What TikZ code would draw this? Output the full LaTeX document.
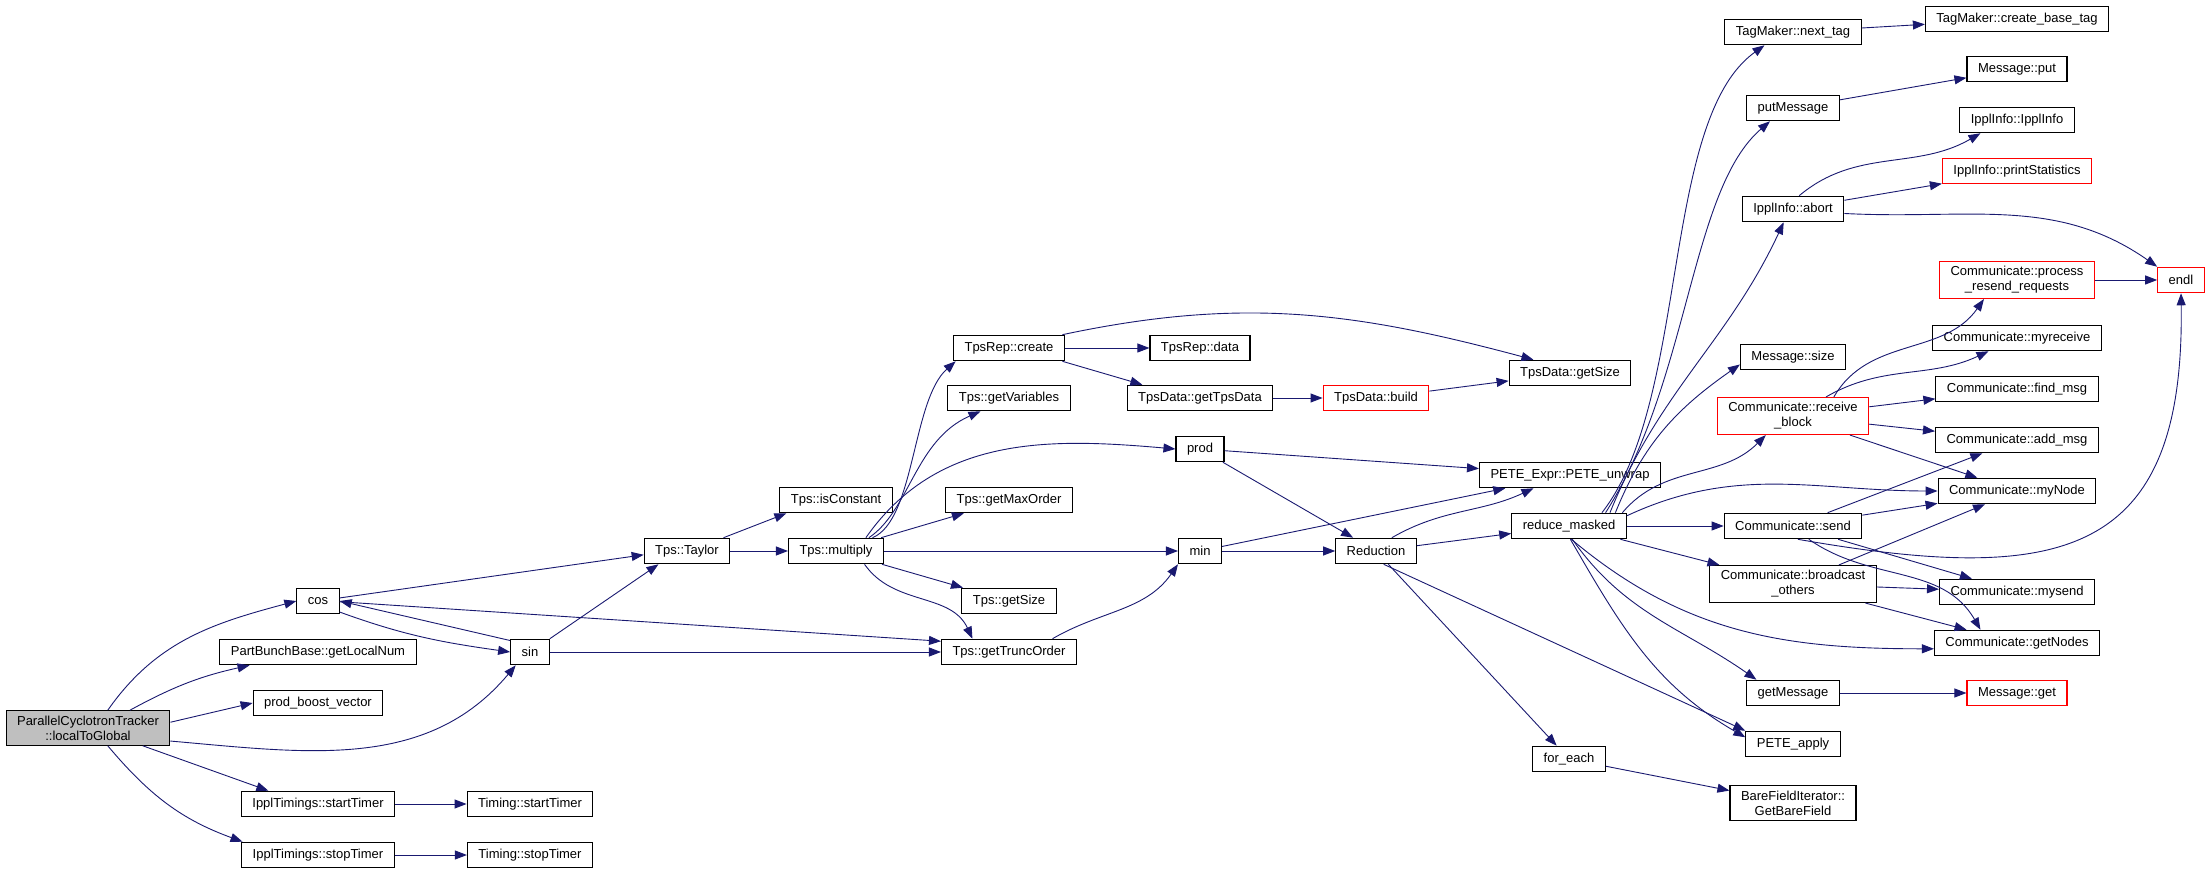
\documentclass[tikz,border=0pt]{standalone}
\usepackage{fontspec}
\setmainfont{Liberation Sans}
\usepackage{xcolor}
\usetikzlibrary{arrows.meta}
\definecolor{edgeblue}{HTML}{191970}
\definecolor{rootgray}{HTML}{BFBFBF}

\begin{document}
\begin{tikzpicture}[x=1pt,y=1pt,
  fn/.style={rectangle,draw=black,line width=1.1pt,font=\fontsize{13}{15}\selectfont,
    inner xsep=11pt,inner ysep=5pt,minimum height=25.5pt,align=center},
  fnred/.style={fn,draw=red},
  fnroot/.style={fn,fill=rootgray},
  call/.style={draw=edgeblue,line width=0.9pt,-{Triangle[length=12pt,width=9pt]}}]
\useasboundingbox (0,0) rectangle (2211,873);

% caller and its direct callees
\node (root) at (88,145) [fnroot] {ParallelCyclotronTracker\\::localToGlobal};
\node (cos) at (318,272) [fn] {cos};
\node (partnum) at (318,221) [fn] {PartBunchBase::getLocalNum};
\node (boostvec) at (318,170) [fn] {prod\_boost\_vector};
\node (sin) at (530,221) [fn] {sin};
\node (startT) at (318,69) [fn] {IpplTimings::startTimer};
\node (tstart) at (530,69) [fn] {Timing::startTimer};
\node (stopT) at (318,18) [fn] {IpplTimings::stopTimer};
\node (tstop) at (530,18) [fn] {Timing::stopTimer};

% Tps
\node (taylor) at (687,322) [fn] {Tps::Taylor};
\node (multiply) at (836,322) [fn] {Tps::multiply};
\node (isconst) at (836,373) [fn] {Tps::isConstant};
\node (repcreate) at (1009,525) [fn] {TpsRep::create};
\node (getvars) at (1009,475) [fn] {Tps::getVariables};
\node (maxorder) at (1009,373) [fn] {Tps::getMaxOrder};
\node (getsize) at (1009,272) [fn] {Tps::getSize};
\node (truncorder) at (1009,221) [fn] {Tps::getTruncOrder};
\node (repdata) at (1200,525) [fn] {TpsRep::data};
\node (gettpsdata) at (1200,475) [fn] {TpsData::getTpsData};
\node (prod) at (1200,424) [fn] {prod};
\node (min) at (1200,322) [fn] {min};
\node (build) at (1376,475) [fnred] {TpsData::build};
\node (reduction) at (1376,322) [fn] {Reduction};
\node (datasize) at (1570,500) [fn] {TpsData::getSize};
\node (unwrap) at (1570,398) [fn] {PETE\_Expr::PETE\_unwrap};
\node (reducemasked) at (1569,347) [fn] {reduce\_masked};
\node (foreach) at (1569,114) [fn] {for\_each};

% Communicate and friends
\node (nexttag) at (1793,841) [fn] {TagMaker::next\_tag};
\node (putmsg) at (1793,765) [fn] {putMessage};
\node (abort) at (1793,664) [fn] {IpplInfo::abort};
\node (msgsize) at (1793,516) [fn] {Message::size};
\node (recvblock) at (1793,457) [fnred] {Communicate::receive\\\_block};
\node (send) at (1793,347) [fn] {Communicate::send};
\node (bcast) at (1793,289) [fn] {Communicate::broadcast\\\_others};
\node (getmsg) at (1793,180) [fn] {getMessage};
\node (peteapply) at (1793,129) [fn] {PETE\_apply};
\node (barefield) at (1793,70) [fn] {BareFieldIterator::\\GetBareField};
\node (basetag) at (2017,854) [fn] {TagMaker::create\_base\_tag};
\node (msgput) at (2017,804) [fn] {Message::put};
\node (ipplinfo) at (2017,753) [fn] {IpplInfo::IpplInfo};
\node (printstat) at (2017,702) [fnred] {IpplInfo::printStatistics};
\node (resend) at (2017,593) [fnred] {Communicate::process\\\_resend\_requests};
\node (endl) at (2181,593) [fnred] {endl};
\node (myreceive) at (2017,535) [fn] {Communicate::myreceive};
\node (findmsg) at (2017,484) [fn] {Communicate::find\_msg};
\node (addmsg) at (2017,433) [fn] {Communicate::add\_msg};
\node (mynode) at (2017,382) [fn] {Communicate::myNode};
\node (mysend) at (2017,281) [fn] {Communicate::mysend};
\node (getnodes) at (2017,230) [fn] {Communicate::getNodes};
\node (msgget) at (2017,180) [fnred] {Message::get};

% calls
\draw[call] (root.42) to[out=55,in=195] (cos.west);
\draw[call] (root.23) to[bend left=8] (partnum.191);
\draw[call] (root.4) -- (boostvec.west);
\draw[call] (root.-9) to[out=-5,in=230] (sin.223);
\draw[call] (root.-18) -- (startT.165);
\draw[call] (root.-42) to[out=-50,in=160] (stopT.170);
\draw[call] (startT) -- (tstart);
\draw[call] (stopT) -- (tstop);
\draw[call] (cos.8) -- (taylor.185);
\draw[call] (cos.-27) to[out=-20,in=172] (sin.west);
\draw[call] (cos.-2) -- (truncorder.171);
\draw[call] (sin.150) -- (cos.east);
\draw[call] (sin.north east) -- (taylor.205);
\draw[call] (sin) -- (truncorder);
\draw[call] (taylor.20) -- (isconst.195);
\draw[call] (taylor) -- (multiply);
\draw[call] (multiply.20) .. controls (915,353) and (912,473) .. (repcreate.194);
\draw[call] (multiply.22) .. controls (910,363) and (915,433) .. (getvars.205);
\draw[call] (multiply.24) to[out=55,in=175] (prod.west);
\draw[call] (multiply) -- (maxorder);
\draw[call] (multiply) -- (min);
\draw[call] (multiply) -- (getsize);
\draw[call] (multiply.-25) to[out=-55,in=115] (truncorder.160);
\draw[call] (truncorder.17) to[out=30,in=235] (min.south west);
\draw[call] (repcreate) -- (repdata);
\draw[call] (repcreate.-14) -- (gettpsdata.167);
\draw[call] (repcreate.14) to[out=12,in=165] (datasize.160);
\draw[call] (gettpsdata) -- (build);
\draw[call] (build) -- (datasize);
\draw[call] (prod) -- (unwrap);
\draw[call] (prod) -- (reduction);
\draw[call] (min) -- (unwrap);
\draw[call] (min) -- (reduction);
\draw[call] (reduction.40) to[out=30,in=205] (unwrap.200);
\draw[call] (reduction) -- (reducemasked);
\draw[call] (reduction) -- (foreach);
\draw[call] (reduction.-60) -- (peteapply.north west);
\draw[call] (reducemasked.22) .. controls (1690,473) and (1660,753) .. (nexttag.205);
\draw[call] (reducemasked.20) .. controls (1690,493) and (1690,683) .. (putmsg.210);
\draw[call] (reducemasked.18) to[out=68,in=245] (abort.235);
\draw[call] (reducemasked.16) to[out=68,in=215] (msgsize.188);
\draw[call] (reducemasked.14) to[out=50,in=225] (recvblock.215);
\draw[call] (reducemasked.10) to[out=25,in=180] (mynode.west);
\draw[call] (reducemasked) -- (send);
\draw[call] (reducemasked) -- (bcast);
\draw[call] (reducemasked.-80) to[out=-40,in=180] (getnodes.184);
\draw[call] (reducemasked.-76) to[out=-55,in=145] (getmsg.160);
\draw[call] (reducemasked.-84) to[out=-60,in=150] (peteapply.172);
\draw[call] (nexttag) -- (basetag);
\draw[call] (putmsg) -- (msgput);
\draw[call] (abort.65) to[out=40,in=210] (ipplinfo.200);
\draw[call] (abort) -- (printstat);
\draw[call] (abort.-5) to[out=-3,in=145] (endl.north west);
\draw[call] (resend) -- (endl);
\draw[call] (recvblock.25) to[out=60,in=235] (resend.210);
\draw[call] (recvblock.30) to[out=30,in=205] (myreceive.205);
\draw[call] (recvblock) -- (findmsg);
\draw[call] (recvblock) -- (addmsg);
\draw[call] (recvblock) -- (mynode);
\draw[call] (send) -- (addmsg);
\draw[call] (send) -- (mynode);
\draw[call] (send.-70) .. controls (2060,288) and (2185,313) .. (endl.south);
\draw[call] (send) -- (mysend);
\draw[call] (send.-40) to[out=-35,in=120] (getnodes.160);
\draw[call] (bcast) -- (mynode);
\draw[call] (bcast) -- (mysend);
\draw[call] (bcast) -- (getnodes);
\draw[call] (getmsg) -- (msgget);
\draw[call] (foreach) -- (barefield);
\end{tikzpicture}
\end{document}
